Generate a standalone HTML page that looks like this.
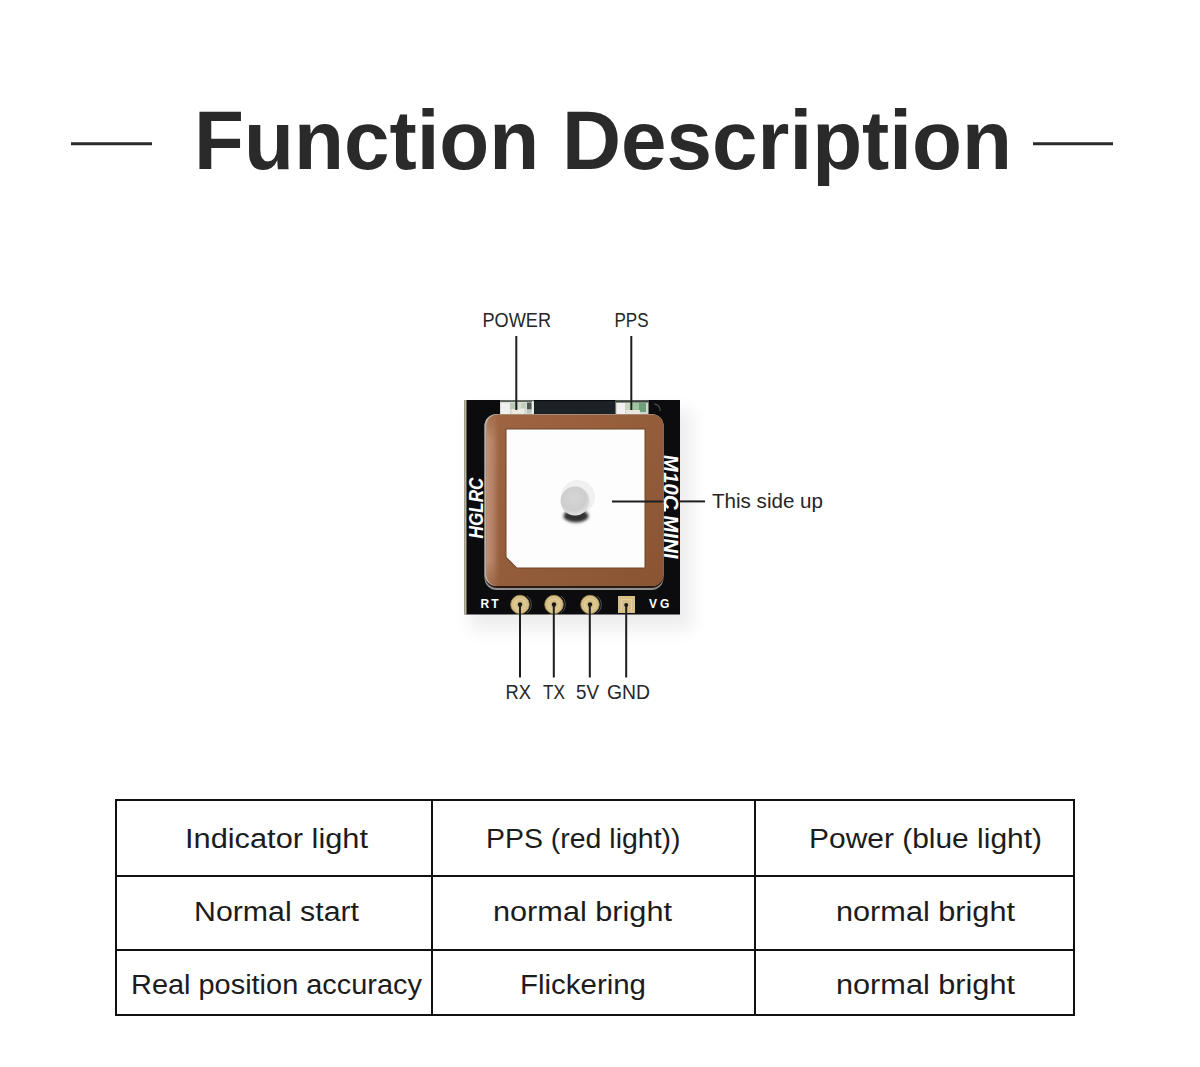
<!DOCTYPE html>
<html><head><meta charset="utf-8">
<style>
html,body{margin:0;padding:0;background:#fff;width:1200px;height:1067px;overflow:hidden}
svg{display:block}
text{font-family:"Liberation Sans",sans-serif}
</style></head>
<body>
<svg width="1200" height="1067" viewBox="0 0 1200 1067">
<defs>
  <filter id="shadow" x="-30%" y="-30%" width="160%" height="160%">
    <feGaussianBlur stdDeviation="9"/>
  </filter>
  <radialGradient id="feed" cx="0.45" cy="0.4" r="0.6">
    <stop offset="0" stop-color="#d6d6d6"/>
    <stop offset="0.7" stop-color="#cdcdcd"/>
    <stop offset="1" stop-color="#e2e2e2"/>
  </radialGradient>
  <linearGradient id="brown" x1="0" y1="0" x2="1" y2="1">
    <stop offset="0" stop-color="#9e6541"/>
    <stop offset="1" stop-color="#8a5433"/>
  </linearGradient>
  <linearGradient id="hl" x1="0" y1="0" x2="1" y2="0">
    <stop offset="0" stop-color="#c8967a" stop-opacity="0.9"/>
    <stop offset="0.5" stop-color="#c0907a" stop-opacity="0.6"/>
    <stop offset="1" stop-color="#a06a44" stop-opacity="0"/>
  </linearGradient>
  <clipPath id="pclip"><rect x="486.5" y="414.5" width="177" height="171.5" rx="11.5"/></clipPath>
  <linearGradient id="vfade" x1="0" y1="0" x2="0" y2="1">
    <stop offset="0" stop-color="#fff" stop-opacity="0.2"/>
    <stop offset="0.15" stop-color="#fff" stop-opacity="1"/>
    <stop offset="0.85" stop-color="#fff" stop-opacity="1"/>
    <stop offset="1" stop-color="#fff" stop-opacity="0.3"/>
  </linearGradient>
  <mask id="hlmask"><rect x="486" y="414" width="16" height="173" fill="url(#vfade)"/></mask>
  <filter id="blur1" x="-50%" y="-50%" width="200%" height="200%"><feGaussianBlur stdDeviation="1.6"/></filter>
</defs>
<rect width="1200" height="1067" fill="#fff"/>

<!-- title -->
<line x1="71" y1="143.8" x2="152" y2="143.8" stroke="#2a2a2a" stroke-width="3"/>
<line x1="1033" y1="143.8" x2="1113" y2="143.8" stroke="#2a2a2a" stroke-width="3"/>
<text x="194" y="169.2" font-size="83" font-weight="bold" fill="#2a2a2a" textLength="818" lengthAdjust="spacingAndGlyphs">Function Description</text>

<!-- board shadow -->
<rect x="470" y="410" width="222" height="220" fill="#000" opacity="0.07" filter="url(#shadow)"/>
<!-- board -->
<rect x="464.5" y="400" width="215.5" height="214.5" fill="#0c0c0e"/>
<rect x="464.5" y="400" width="2" height="214.5" fill="#b9b49a"/>
<!-- top dark strip between leds -->
<rect x="534" y="401" width="81" height="13" fill="#1c2027"/>
<!-- LEDs -->
<rect x="500" y="400.5" width="34" height="14" fill="#d5dcd2"/>
<rect x="500" y="400.5" width="34" height="1.5" fill="#5c625c"/>
<rect x="501" y="403" width="9" height="11" fill="#f2eff0"/>
<rect x="510" y="403" width="8" height="6" fill="#b9cbb4"/>
<rect x="512" y="409" width="12" height="5" fill="#ece9e2"/>
<rect x="521" y="403" width="5" height="5" fill="#c2d0bd"/>
<rect x="527" y="402.5" width="4.5" height="7" fill="#4d5650"/>
<rect x="527" y="409.5" width="4.5" height="4" fill="#b8c4bc"/>
<rect x="532" y="401" width="1.5" height="13" fill="#eef2ee"/>
<rect x="615.5" y="400.5" width="33" height="14" fill="#d0dacb"/>
<rect x="615.5" y="400.5" width="33" height="2" fill="#3a423c"/>
<rect x="617" y="403" width="8" height="11" fill="#f4eff0"/>
<rect x="625" y="404" width="6" height="6" fill="#c6d6bf"/>
<rect x="632" y="403" width="7" height="7" fill="#9fc4a2"/>
<rect x="639" y="403" width="7" height="9" fill="#6f9e78"/>
<rect x="626" y="410" width="14" height="4" fill="#e8e6dc"/>
<path d="M654 404 a6 6 0 0 1 6 7" stroke="#555" stroke-width="1.2" fill="none"/>
<!-- patch thickness edges -->
<rect x="484.5" y="414" width="179" height="176" rx="12" fill="#8e8e8e"/>
<rect x="485" y="414" width="178.5" height="174" rx="12" fill="#2a1c14"/>
<rect x="484.5" y="414" width="179" height="172" rx="12" fill="#b4b0a8"/>
<!-- brown patch -->
<rect x="486.5" y="414.5" width="177" height="171.5" rx="11.5" fill="url(#brown)"/>
<g clip-path="url(#pclip)"><rect x="486.5" y="414.5" width="15" height="171.5" fill="url(#hl)" mask="url(#hlmask)"/></g>
<!-- silver electrode -->
<path d="M505.5 428.5 H645.5 V568.5 H516.5 L505.5 557.5 Z" fill="#6e4428"/>
<path d="M506.5 429.5 H644.5 V567.5 H517 L506.5 557 Z" fill="#fdfdfd"/>
<!-- feed point -->
<circle cx="578" cy="497" r="17" fill="#f0f0f0"/>
<ellipse cx="576" cy="516" rx="12.5" ry="6.5" fill="#333" filter="url(#blur1)"/>
<circle cx="575" cy="501" r="14.5" fill="url(#feed)"/>

<!-- HGLRC -->
<text transform="translate(483.3,538.5) rotate(-90)" font-size="20.5" font-weight="bold" font-style="italic" fill="#fff" textLength="61" lengthAdjust="spacingAndGlyphs">HGLRC</text>
<!-- M10C_MINI -->
<text transform="translate(663.5,454) rotate(90) skewX(-9)" font-size="20.5" font-weight="bold" fill="#fff" textLength="104" lengthAdjust="spacingAndGlyphs">M10C MINI</text>
<rect x="664" y="501.5" width="2" height="10" fill="#fff"/>

<!-- pads -->
<g fill="#d6c088" stroke="#a08a50" stroke-width="0.8">
  <circle cx="520" cy="604.5" r="9.3"/>
  <circle cx="554" cy="604.5" r="9.3"/>
  <circle cx="590" cy="604.5" r="9.3"/>
</g>
<rect x="618" y="596" width="17" height="17" fill="#d6c088"/>
<g fill="none" stroke="#e6d49e" stroke-width="1.2" opacity="0.8">
  <circle cx="520" cy="604.5" r="5.5"/>
  <circle cx="554" cy="604.5" r="5.5"/>
  <circle cx="590" cy="604.5" r="5.5"/>
  <path d="M621.5 611 V599.5 H631.5 V611"/>
</g>
<g fill="#1a1410">
  <circle cx="520" cy="604.5" r="2.2"/>
  <circle cx="554" cy="604.5" r="2.2"/>
  <circle cx="590" cy="604.5" r="2.2"/>
  <circle cx="626.2" cy="605" r="2"/>
</g>
<g fill="none" stroke="#777" stroke-width="0.8" opacity="0.8">
  <path d="M527 596 a10.5 10.5 0 0 1 0 17"/>
  <path d="M561 596 a10.5 10.5 0 0 1 0 17"/>
  <path d="M597 596 a10.5 10.5 0 0 1 0 17"/>
</g>
<g font-size="12" font-weight="bold" fill="#fff">
  <text x="480.5" y="608" letter-spacing="2.2">RT</text>
  <text x="649" y="608" letter-spacing="3">VG</text>
</g>

<!-- leader lines -->
<g stroke="#1e1e1e" stroke-width="2">
  <line x1="516.3" y1="336" x2="516.3" y2="410"/>
  <line x1="631.3" y1="336" x2="631.3" y2="410"/>
  <line x1="612" y1="501.4" x2="663.5" y2="501.4"/>
  <line x1="678" y1="501.4" x2="705" y2="501.4"/>
  <line x1="520" y1="604.5" x2="520" y2="677.5"/>
  <line x1="553.8" y1="604.5" x2="553.8" y2="677.5"/>
  <line x1="589.8" y1="604.5" x2="589.8" y2="677.5"/>
  <line x1="626.2" y1="604.5" x2="626.2" y2="677.5"/>
</g>

<!-- labels -->
<g font-size="20" fill="#262626">
  <text x="482.5" y="327" textLength="68.5" lengthAdjust="spacingAndGlyphs">POWER</text>
  <text x="614.5" y="327" textLength="34" lengthAdjust="spacingAndGlyphs">PPS</text>
  <text x="712" y="508" textLength="111" lengthAdjust="spacingAndGlyphs">This side up</text>
  <text x="505.5" y="698.5" textLength="25.5" lengthAdjust="spacingAndGlyphs">RX</text>
  <text x="543" y="698.5" textLength="22" lengthAdjust="spacingAndGlyphs">TX</text>
  <text x="576" y="698.5" textLength="23" lengthAdjust="spacingAndGlyphs">5V</text>
  <text x="607" y="698.5" textLength="43" lengthAdjust="spacingAndGlyphs">GND</text>
</g>

<!-- table -->
<g fill="#111">
  <rect x="115" y="799" width="960" height="2"/>
  <rect x="115" y="875" width="960" height="2"/>
  <rect x="115" y="949" width="960" height="2"/>
  <rect x="115" y="1014" width="960" height="2"/>
  <rect x="115" y="799" width="2" height="217"/>
  <rect x="431" y="799" width="2" height="217"/>
  <rect x="754" y="799" width="2" height="217"/>
  <rect x="1073" y="799" width="2" height="217"/>
</g>
<g font-size="27" fill="#1c1c1c">
  <text x="185" y="848" textLength="183" lengthAdjust="spacingAndGlyphs">Indicator light</text>
  <text x="486" y="848" textLength="194.5" lengthAdjust="spacingAndGlyphs">PPS (red light))</text>
  <text x="809" y="848" textLength="233" lengthAdjust="spacingAndGlyphs">Power (blue light)</text>
  <text x="194" y="921" textLength="165" lengthAdjust="spacingAndGlyphs">Normal start</text>
  <text x="493" y="921" textLength="179" lengthAdjust="spacingAndGlyphs">normal bright</text>
  <text x="836" y="921" textLength="179" lengthAdjust="spacingAndGlyphs">normal bright</text>
  <text x="131" y="994.3" textLength="291" lengthAdjust="spacingAndGlyphs">Real position accuracy</text>
  <text x="520" y="994.3" textLength="126" lengthAdjust="spacingAndGlyphs">Flickering</text>
  <text x="836" y="994.3" textLength="179" lengthAdjust="spacingAndGlyphs">normal bright</text>
</g>
</svg>
</body></html>
